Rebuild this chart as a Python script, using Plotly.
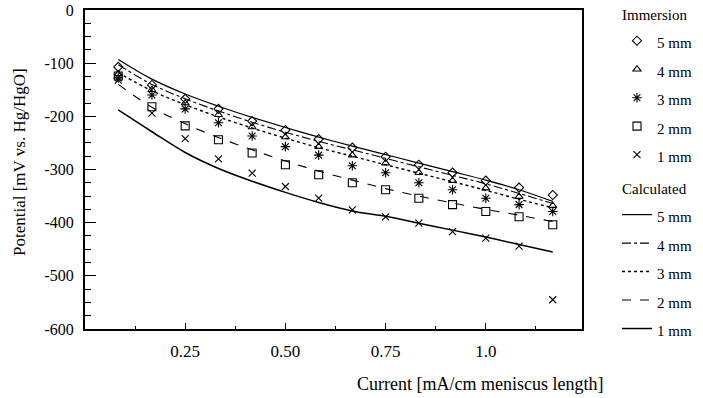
import plotly.graph_objects as go

# ---- data ----
current = [0.083, 0.167, 0.25, 0.333, 0.417, 0.5, 0.583, 0.667, 0.75, 0.833, 0.917, 1.0, 1.083, 1.167]

imm_5mm = [-107, -141, -167, -186, -209, -226, -243, -259, -276, -291, -306, -321, -334, -348]
imm_4mm = [-120, -150, -175, -197, -220, -239, -257, -273, -288, -306, -321, -335, -351, -368]
imm_3mm = [-128, -160, -186, -212, -237, -257, -273, -293, -306, -325, -338, -354, -366, -379]
imm_2mm = [-124, -182, -218, -244, -269, -291, -310, -325, -338, -354, -366, -379, -389, -404]
imm_1mm = [-132, -194, -242, -280, -307, -332, -354, -376, -389, -401, -417, -429, -444, -545]

calc_5mm = [-93, -130, -158, -181, -202, -221, -239, -256, -272, -288, -304, -320, -338, -360]
calc_4mm = [-103, -140, -167, -190, -211, -230, -247, -263, -279, -295, -311, -327, -345, -364]
calc_3mm = [-118, -152, -178, -201, -222, -241, -259, -275, -291, -307, -323, -339, -356, -372]
calc_2mm = [-140, -183, -214, -240, -263, -284, -303, -320, -336, -350, -363, -375, -386, -398]
calc_1mm = [-188, -229, -268, -298, -322, -343, -362, -378, -388, -401, -414, -427, -441, -455]

labels = ["5 mm", "4 mm", "3 mm", "2 mm", "1 mm"]
x_tickvals = [0.25, 0.5, 0.75, 1.0]
x_ticktext = ["0.25", "0.50", "0.75", "1.0"]
y_tickvals = [0, -100, -200, -300, -400, -500, -600]
y_ticktext = ["0", "-100", "-200", "-300", "-400", "-500", "-600"]

FONT = "Liberation Serif"
LEG_FS = 19.6

FIG_W, FIG_H = 703, 398
ML, MR, MT, MB = 85, 121, 10, 69
PW = FIG_W - ML - MR
PH = FIG_H - MT - MB


def lbl(t, size=15):
    return f'<span style="font-size:{size}px">{t}</span>'


fig = go.Figure()

imm_series = [imm_5mm, imm_4mm, imm_3mm, imm_2mm, imm_1mm]
imm_symbols = ["diamond-open", "triangle-up-open", "asterisk-open", "square-open", "x-thin-open"]
imm_sizes = [7, 7, 8, 8, 7]
for i, (ys, sym, sz, lab) in enumerate(zip(imm_series, imm_symbols, imm_sizes, labels)):
    fig.add_trace(go.Scatter(
        x=current, y=ys, mode="markers", name=lbl(lab),
        marker=dict(symbol=sym, size=sz, color="black", line=dict(width=1.1, color="black")),
        legendgroup="imm",
        legendgrouptitle=dict(text=lbl("Immersion", 15), font=dict(size=LEG_FS, family=FONT, color="black")) if i == 0 else None,
    ))

calc_series = [calc_5mm, calc_4mm, calc_3mm, calc_2mm, calc_1mm]
calc_dash = ["solid", "dashdot", "dot", "dash", "solid"]
calc_width = [1.2, 1.1, 1.4, 1.1, 1.5]
for i, (ys, dash, w, lab) in enumerate(zip(calc_series, calc_dash, calc_width, labels)):
    fig.add_trace(go.Scatter(
        x=current, y=ys, mode="lines", name=lbl(lab),
        line=dict(color="black", width=w, dash=dash, shape="spline"),
        legendgroup="calc",
        legendgrouptitle=dict(text=lbl("Calculated", 15), font=dict(size=LEG_FS, family=FONT, color="black")) if i == 0 else None,
    ))

fig.update_layout(
    width=FIG_W, height=FIG_H,
    margin=dict(l=ML, r=MR, t=MT, b=MB, autoexpand=False),
    paper_bgcolor="white", plot_bgcolor="white",
    font=dict(family=FONT, color="black", size=16),
    legend=dict(
        x=(617 - ML) / PW, xanchor="left", y=1 + 17 / PH, yanchor="top",
        font=dict(size=LEG_FS, family=FONT, color="black"),
        tracegroupgap=3, traceorder="grouped",
        bgcolor="rgba(0,0,0,0)", borderwidth=0,
        maxheight=420,
    ),
    xaxis=dict(
        range=[0, 1.24], showgrid=False, zeroline=False,
        tickmode="array", tickvals=x_tickvals, ticktext=x_ticktext,
        ticks="inside", ticklen=6, tickwidth=1, tickcolor="black",
        showline=True, linewidth=2, linecolor="black", mirror=True,
        tickfont=dict(size=17, family=FONT), ticklabelstandoff=6,
        ticklabeloverflow="allow",
        minor=dict(tickmode="linear", tick0=0, dtick=0.125, ticks="inside", ticklen=3, tickcolor="black"),
    ),
    yaxis=dict(
        range=[-600, 0], showgrid=False, zeroline=False,
        tickmode="array", tickvals=y_tickvals, ticktext=y_ticktext,
        ticks="inside", ticklen=11, tickwidth=1, tickcolor="black",
        showline=True, linewidth=2, linecolor="black", mirror=True,
        tickfont=dict(size=16, family=FONT), ticklabelstandoff=6,
        ticklabeloverflow="allow",
        minor=dict(tickmode="linear", tick0=0, dtick=25, ticks="inside", ticklen=6, tickcolor="black"),
    ),
    annotations=[
        dict(text="Current [mA/cm meniscus length]", xref="paper", yref="paper",
             x=(480 - ML) / PW, y=-(384 - (MT + PH)) / PH, xanchor="center", yanchor="middle", showarrow=False,
             font=dict(size=18, family=FONT, color="black")),
        dict(text="Potential [mV vs. Hg/HgO]", xref="paper", yref="paper",
             x=-(ML - 19) / PW, y=((MT + PH) - 162) / PH, xanchor="center", yanchor="middle", showarrow=False, textangle=-90,
             font=dict(size=17, family=FONT, color="black")),
    ],
)

fig.write_html(
    "out.html",
    config={"displayModeBar": False},
    post_script="document.body.style.margin='0';document.body.style.overflow='hidden';",
)
